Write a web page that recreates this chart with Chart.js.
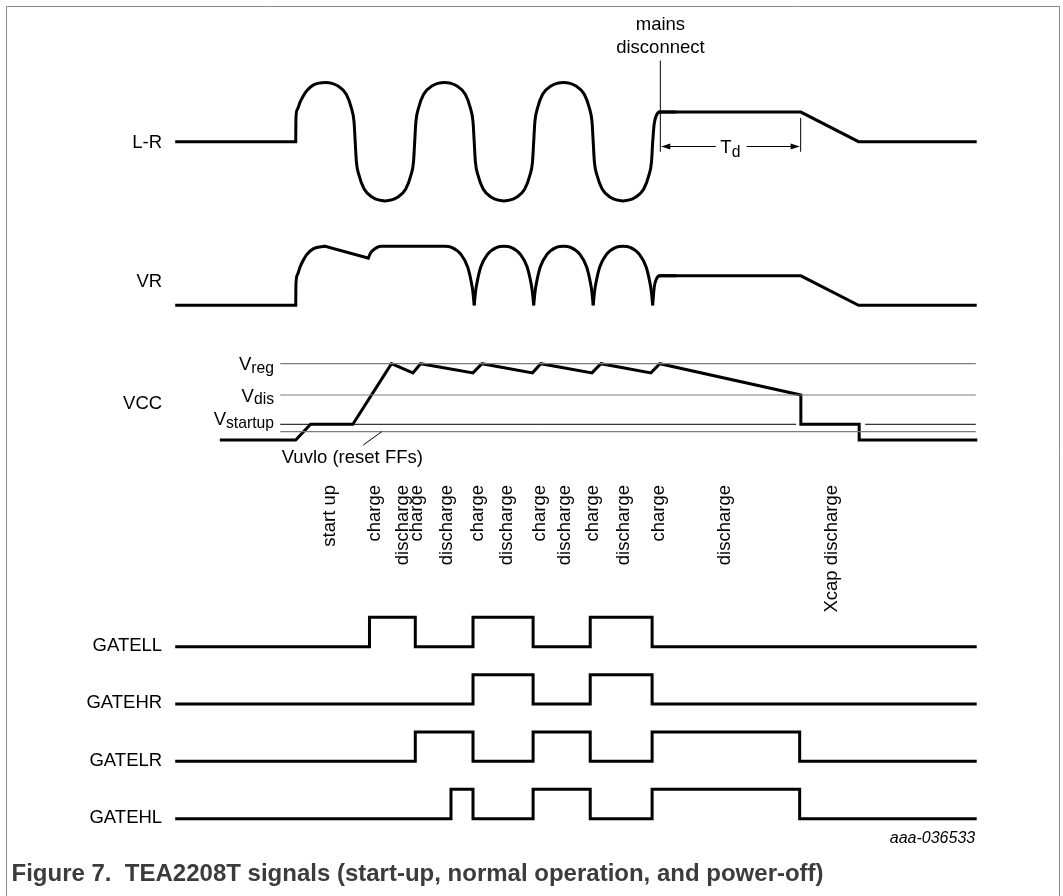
<!DOCTYPE html>
<html>
<head>
<meta charset="utf-8">
<title>TEA2208T signals</title>
<script src="https://cdn.jsdelivr.net/npm/chart.js@4.4.1/dist/chart.umd.min.js"></script>
<style>
  body { margin: 0; background: #fff; }
  #grafico { display: block; }
  #pie {
    position: absolute; left: 11.5px; top: 860px;
    font: bold 24px "Liberation Sans", Arial, sans-serif;
    line-height: 26px; color: #3c3c3c; white-space: pre;
  }
</style>
</head>
<body>
<canvas id="grafico" width="1063" height="896"></canvas>
<div id="pie">Figure 7.  TEA2208T signals (start-up, normal operation, and power-off)</div>
<script>
// time in ms, every trace has its own level (0 = low line)

// L-R
var lrInicioT = [0, 20];
var lrInicioV = [0, 0];
var lrOndaT = [20, 20.05, 20.3, 20.7, 21.2, 21.85, 23, 25, 27.1, 28.5, 29.35, 29.8,
  30, 30.2, 30.65, 31.5, 32.9, 35, 37.1, 38.5, 39.35, 39.8,
  40, 40.2, 40.65, 41.5, 42.9, 45, 47.1, 48.5, 49.35, 49.8,
  50, 50.2, 50.65, 51.5, 52.9, 55, 57.1, 58.5, 59.35, 59.8,
  60, 60.2, 60.65, 61.5, 62.9, 65, 67.1, 68.5, 69.35, 69.8,
  70, 70.2, 70.65, 71.5, 72.9, 75, 77.1, 78.5, 79.35, 79.8,
  80, 80.25, 80.6, 81.2, 84];
var lrOndaV = [0, 0.42, 0.55, 0.66, 0.76, 0.86, 0.96, 1, 0.94, 0.8, 0.57, 0.34,
  0, -0.34, -0.57, -0.8, -0.94, -1, -0.94, -0.8, -0.57, -0.34,
  0, 0.34, 0.57, 0.8, 0.94, 1, 0.94, 0.8, 0.57, 0.34,
  0, -0.34, -0.57, -0.8, -0.94, -1, -0.94, -0.8, -0.57, -0.34,
  0, 0.34, 0.57, 0.8, 0.94, 1, 0.94, 0.8, 0.57, 0.34,
  0, -0.34, -0.57, -0.8, -0.94, -1, -0.94, -0.8, -0.57, -0.34,
  0, 0.3, 0.44, 0.5, 0.5];
var lrFinT = [81.2, 104.9, 114.6, 134.2];
var lrFinV = [0.5, 0.5, 0, 0];

// VR
var vrInicioT = [0, 20];
var vrInicioV = [0, 0];
var vrSubidaT = [20, 20.05, 20.3, 20.7, 21.2, 21.85, 23, 24.9];
var vrSubidaV = [0, 0.38, 0.52, 0.64, 0.75, 0.86, 0.96, 1];
var vrCaidaT = [24.9, 32.2];
var vrCaidaV = [1, 0.8];
var vrRectT = [32.2, 32.6, 33.2, 34.3, 45, 46.2, 47.8, 48.9, 49.5, 49.75,
  50, 50.25, 50.5, 51.1, 52.2, 53.8, 55, 56.2, 57.8, 58.9, 59.5, 59.75,
  60, 60.25, 60.5, 61.1, 62.2, 63.8, 65, 66.2, 67.8, 68.9, 69.5, 69.75,
  70, 70.25, 70.5, 71.1, 72.2, 73.8, 75, 76.2, 77.8, 78.9, 79.5, 79.75,
  80, 80.25, 80.6, 81.2, 84];
var vrRectV = [0.8, 0.89, 0.95, 1, 1, 0.98, 0.86, 0.65, 0.4, 0.25,
  0, 0.25, 0.4, 0.65, 0.86, 0.98, 1, 0.98, 0.86, 0.65, 0.4, 0.25,
  0, 0.25, 0.4, 0.65, 0.86, 0.98, 1, 0.98, 0.86, 0.65, 0.4, 0.25,
  0, 0.25, 0.4, 0.65, 0.86, 0.98, 1, 0.98, 0.86, 0.65, 0.4, 0.25,
  0, 0.3, 0.44, 0.5, 0.5];
var vrFinT = [81.2, 104.9, 114.6, 134.2];
var vrFinV = [0.5, 0.5, 0, 0];

// VCC (Vreg = 1)
var vccT = [7.5, 20, 22.5, 29.6, 36.1, 39.7, 41, 49.8, 51.3, 59.8, 61.2, 69.8, 71.3, 79.7, 81.2, 104.9, 104.9, 114.7, 114.7, 134.3];
var vccV = [0, 0, 0.206, 0.206, 1, 0.88, 1, 0.88, 1, 0.88, 1, 0.88, 1, 0.88, 1, 0.59, 0.206, 0.206, 0, 0];

var umbralNombres = ['reg', 'dis', 'startup'];
var umbralNiveles = [1, 0.59, 0.206];
var nivelUvlo = 0.109;
var umbralDesde = 17.4;
var umbralHasta = 134.3;
var hueco = [104.1, 115.7];

// gates
var gll_T = [0, 32.4, 40.1, 49.8, 59.9, 69.5, 79.9, 134.2];
var gll_V = [0, 1, 0, 1, 0, 1, 0, 0];
var ghr_T = [0, 49.8, 59.9, 69.5, 79.9, 134.2];
var ghr_V = [0, 1, 0, 1, 0, 0];
var glr_T = [0, 40.1, 49.8, 59.9, 69.5, 79.9, 104.7, 134.2];
var glr_V = [0, 1, 0, 1, 0, 1, 0, 0];
var ghl_T = [0, 46.1, 49.8, 59.9, 69.5, 79.9, 104.7, 134.2];
var ghl_V = [0, 1, 0, 1, 0, 1, 0, 0];

var faseTextos = ['start up', 'charge', 'discharge', 'charge', 'discharge', 'charge', 'discharge',
  'charge', 'discharge', 'charge', 'discharge', 'charge', 'discharge', 'Xcap discharge'];
var faseTiempos = [25.8, 33.3, 38.0, 40.4, 45.4, 50.7, 55.5, 61.1, 65.3, 70.0, 75.1, 81.0, 92.2, 110.1];

var desconexion = 81.2;
var finTd = 104.95;

var etiquetas = ['L-R', 'VR', 'VCC', 'GATELL', 'GATEHR', 'GATELR', 'GATEHL'];
var etiquetaEje = ['yLR', 'yVR', 'yVCC', 'yGLL', 'yGHR', 'yGLR', 'yGHL'];
var etiquetaNivel = [-0.02, 0.4, 0.47, 0.04, 0.03, 0.03, 0.04];

// layout (pixels)
var W = 1063, H = 896;
var x0 = 176.7, pxMs = 5.95;
var FUENTE = '"Liberation Sans", Arial, sans-serif';

function escalaFila(base, alto) {
  return { type: 'linear', axis: 'y', display: false, bounds: 'data',
    min: -(H - base) / (base - alto), max: base / (base - alto) };
}

function serie(ts, vs, eje, extra) {
  var d = {
    data: ts.map(function (t, i) { return { x: t, y: vs[i] }; }),
    yAxisID: eje, borderColor: '#000', borderWidth: 3,
    pointRadius: 0, pointHoverRadius: 0, fill: false, tension: 0,
    borderJoinStyle: 'miter', borderCapStyle: 'square'
  };
  return Object.assign(d, extra || {});
}

// split a rectified trace at its cusps (value 0) so each arch is its own curve
function cortarEnCeros(ts, vs) {
  var trozos = [];
  var t = [ts[0]], v = [vs[0]];
  for (var i = 1; i < ts.length; i++) {
    t.push(ts[i]); v.push(vs[i]);
    if (vs[i] === 0 && i < ts.length - 1) {
      trozos.push([t, v]);
      t = [ts[i]]; v = [vs[i]];
    }
  }
  trozos.push([t, v]);
  return trozos;
}

var curva = { cubicInterpolationMode: 'monotone', borderCapStyle: 'butt' };
var escalon = { stepped: 'before' };
var gris = { borderColor: '#7d7d7d', borderWidth: 1.2, borderCapStyle: 'butt' };
var fina = { borderColor: '#000', borderWidth: 1, borderCapStyle: 'butt' };

var datasets = [
  serie(lrInicioT, lrInicioV, 'yLR'),
  serie(lrOndaT, lrOndaV, 'yLR', curva),
  serie(lrFinT, lrFinV, 'yLR'),
  serie(vrInicioT, vrInicioV, 'yVR'),
  serie(vrSubidaT, vrSubidaV, 'yVR', curva),
  serie(vrCaidaT, vrCaidaV, 'yVR'),
  serie(vrFinT, vrFinV, 'yVR')
];
cortarEnCeros(vrRectT, vrRectV).forEach(function (p) {
  datasets.push(serie(p[0], p[1], 'yVR', curva));
});
datasets.push(serie([umbralDesde, umbralHasta], [umbralNiveles[0], umbralNiveles[0]], 'yVCC', gris));
datasets.push(serie([umbralDesde, umbralHasta], [umbralNiveles[1], umbralNiveles[1]], 'yVCC', gris));
datasets.push(serie([umbralDesde, umbralHasta], [nivelUvlo, nivelUvlo], 'yVCC', gris));
datasets.push(serie([umbralDesde, hueco[0]], [umbralNiveles[2], umbralNiveles[2]], 'yVCC', fina));
datasets.push(serie([hueco[1], umbralHasta], [umbralNiveles[2], umbralNiveles[2]], 'yVCC', fina));
datasets.push(serie(vccT, vccV, 'yVCC'));
datasets.push(serie(gll_T, gll_V, 'yGLL', escalon));
datasets.push(serie(ghr_T, ghr_V, 'yGHR', escalon));
datasets.push(serie(glr_T, glr_V, 'yGLR', escalon));
datasets.push(serie(ghl_T, ghl_V, 'yGHL', escalon));

function conSub(ctx, main, sub, x, base, bajada, alinear) {
  ctx.textBaseline = 'alphabetic';
  ctx.textAlign = 'left';
  ctx.font = '18.5px ' + FUENTE;
  var w1 = ctx.measureText(main).width;
  ctx.font = '15.7px ' + FUENTE;
  var w2 = ctx.measureText(sub).width;
  var izq = alinear === 'center' ? x - (w1 + w2) / 2 : x - w1 - w2;
  ctx.fillText(sub, izq + w1, base + bajada);
  ctx.font = '18.5px ' + FUENTE;
  ctx.fillText(main, izq, base);
}

function flecha(ctx, xp, yp, dir) {
  ctx.beginPath();
  ctx.moveTo(xp, yp);
  ctx.lineTo(xp + dir * 9, yp - 3);
  ctx.lineTo(xp + dir * 9, yp + 3);
  ctx.closePath();
  ctx.fill();
}

var anotaciones = {
  id: 'anotaciones',
  afterDraw: function (chart) {
    var ctx = chart.ctx;
    var s = chart.scales;
    function px(t) { return s.x.getPixelForValue(t); }
    function py(eje, v) { return s[eje].getPixelForValue(v); }
    ctx.save();

    // frame
    ctx.strokeStyle = '#8a8a8a';
    ctx.lineWidth = 1;
    ctx.beginPath();
    ctx.moveTo(6.5, H);
    ctx.lineTo(6.5, 6.5);
    ctx.lineTo(1059.5, 6.5);
    ctx.lineTo(1059.5, H);
    ctx.stroke();

    ctx.fillStyle = '#000';
    ctx.strokeStyle = '#000';

    // signal names
    ctx.font = '18.5px ' + FUENTE;
    ctx.textAlign = 'right';
    ctx.textBaseline = 'middle';
    for (var i = 0; i < etiquetas.length; i++) {
      ctx.fillText(etiquetas[i], px(-2.45), py(etiquetaEje[i], etiquetaNivel[i]));
    }

    // thresholds
    var subeV = [6.4, 6.6, 0.8];
    for (var k = 0; k < umbralNombres.length; k++) {
      conSub(ctx, 'V', umbralNombres[k], px(16.35), py('yVCC', umbralNiveles[k]) + subeV[k], 2.6);
    }
    ctx.font = '18.5px ' + FUENTE;
    ctx.textAlign = 'left';
    ctx.textBaseline = 'middle';
    ctx.fillText('Vuvlo (reset FFs)', px(17.65), py('yVCC', -0.236));
    ctx.lineWidth = 1;
    ctx.beginPath();
    ctx.moveTo(px(31.35), py('yVCC', -0.066));
    ctx.lineTo(px(34.45), py('yVCC', nivelUvlo));
    ctx.stroke();

    // phases
    ctx.textAlign = 'right';
    for (var f = 0; f < faseTextos.length; f++) {
      ctx.save();
      ctx.translate(px(faseTiempos[f]), 485);
      ctx.rotate(-Math.PI / 2);
      ctx.fillText(faseTextos[f], 0, 0);
      ctx.restore();
    }

    // mains disconnect + Td
    ctx.textAlign = 'center';
    ctx.fillText('mains', px(desconexion + 0.1), py('yLR', 1.98));
    ctx.fillText('disconnect', px(desconexion + 0.1), py('yLR', 1.58));
    ctx.beginPath();
    ctx.moveTo(px(desconexion) + 0.5, py('yLR', 1.37));
    ctx.lineTo(px(desconexion) + 0.5, py('yLR', -0.17));
    ctx.moveTo(px(finTd) - 0.5, py('yLR', 0.4));
    ctx.lineTo(px(finTd) - 0.5, py('yLR', -0.17));
    var ya = Math.round(py('yLR', -0.074)) + 0.5;
    ctx.moveTo(px(desconexion) + 2, ya);
    ctx.lineTo(px(90.6), ya);
    ctx.moveTo(px(95.8), ya);
    ctx.lineTo(px(finTd) - 2, ya);
    ctx.stroke();
    flecha(ctx, px(desconexion) + 1.5, ya, 1);
    flecha(ctx, px(finTd) - 1.5, ya, -1);
    conSub(ctx, 'T', 'd', px(93.05), ya + 6, 4, 'center');

    // drawing number
    ctx.font = 'italic 16px ' + FUENTE;
    ctx.textAlign = 'right';
    ctx.textBaseline = 'middle';
    ctx.fillText('aaa-036533', px(134.2), py('yGHL', -0.69));

    ctx.restore();
  }
};

var ejes = {
  x: { type: 'linear', display: false, bounds: 'data', min: -x0 / pxMs, max: (W - x0) / pxMs },
  yLR: escalaFila(141.7, 82.5),
  yVR: escalaFila(305.3, 246.3),
  yVCC: escalaFila(440, 363.7),
  yGLL: escalaFila(646.7, 617.3),
  yGHR: escalaFila(704, 674.7),
  yGLR: escalaFila(761.3, 732),
  yGHL: escalaFila(818.7, 789.3)
};

var ctx = document.getElementById('grafico').getContext('2d');
window.grafica = new Chart(ctx, {
  type: 'line',
  data: { datasets: datasets },
  options: {
    responsive: false,
    animation: false,
    events: [],
    layout: { padding: 0 },
    scales: ejes,
    plugins: { legend: { display: false }, tooltip: { enabled: false }, title: { display: false } }
  },
  plugins: [anotaciones]
});
</script>
</body>
</html>
